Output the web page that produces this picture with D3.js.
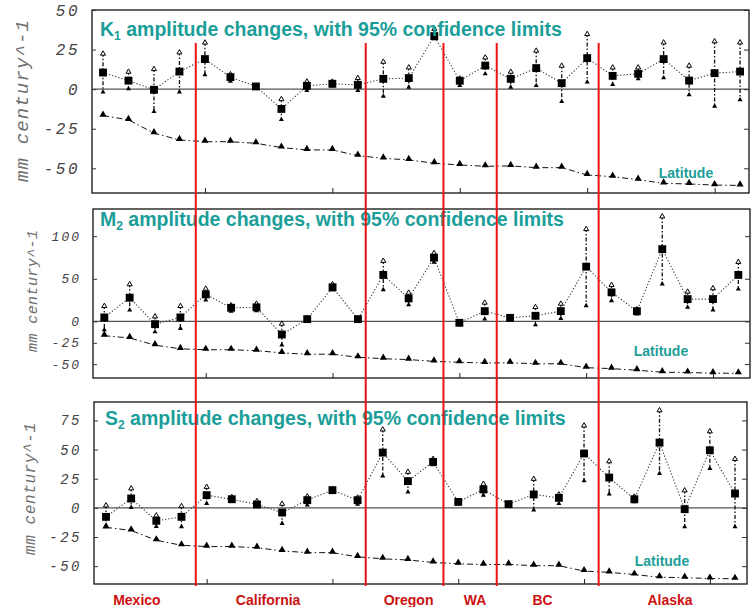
<!DOCTYPE html>
<html>
<head>
<meta charset="utf-8">
<title>K1, M2, S2 amplitude changes</title>
<style>
  body { margin: 0; background: #fff; }
  svg { display: block; }
</style>
</head>
<body>
<script src="https://d3js.org/d3.v7.min.js"></script>
<script>
// station index along the coast, south to north
var stations = [1,2,3,4,5,6,7,8,9,10,11,12,13,14,15,16,17,18,19,20,21,22,23,24,25,26];

// latitude curve (plotted as negative offset, same in every panel)
var latitude = [-16.7,-19.4,-27.8,-32.1,-33.2,-33.2,-34.2,-36.9,-38.4,-38.4,-42.0,-43.7,-44.7,
                -46.8,-47.9,-48.7,-48.5,-49.6,-49.6,-54.2,-55.3,-57.2,-59.5,-59.9,-60.6,-60.8];

// K1 trend and 95% limits (mm/century)
var k1   = [10.5,5.4,-0.4,11.1,19.0,7.6,1.7,-12.5,2.1,3.4,2.7,6.5,7.0,33.5,5.3,14.9,6.5,13.3,3.8,19.6,8.4,9.7,19.0,5.4,10.1,11.1];
var k1Hi = [23.0,11.6,13.3,23.8,30.0,10.0,2.7,-5.7,5.4,5.3,7.6,17.9,14.3,38.6,7.3,20.6,11.6,24.9,15.4,35.4,14.3,14.3,30.1,15.4,30.8,30.1];
var k1Lo = [-2.5,-0.4,-14.8,-2.5,8.4,4.4,0.0,-19.9,-1.5,1.3,-1.5,-5.1,0.6,31.2,1.6,9.0,0.6,1.6,-8.5,3.8,2.3,5.9,6.5,-4.2,-11.4,-7.4];

// M2
var m2   = [4.7,27.8,-3.2,4.7,31.7,16.0,16.5,-15.3,2.7,40.0,2.7,54.5,27.0,74.8,-1.6,12.1,4.2,6.6,12.1,64.2,34.1,12.1,84.7,26.2,26.2,54.5];
var m2Hi = [19.2,44.7,7.0,19.2,39.5,20.0,21.9,-1.6,4.7,44.7,4.5,72.1,34.8,81.2,0.4,23.1,6.2,18.0,21.9,109.4,43.9,15.3,124.2,36.0,40.0,70.9];
var m2Lo = [-11.0,12.1,-13.4,-9.4,23.9,10.6,11.4,-28.7,0.7,36.0,0.9,36.0,18.4,68.2,-3.6,1.5,2.2,-5.2,2.3,17.2,23.1,7.4,42.7,15.3,12.1,36.8];

// S2
var s2   = [-7.7,8.0,-11.1,-7.7,10.9,7.4,2.9,-4.0,6.6,15.2,6.6,47.4,22.9,39.4,5.1,15.8,3.2,11.5,8.6,46.6,26.0,7.4,56.0,-1.1,49.4,12.3];
var s2Hi = [2.9,17.5,-5.7,2.3,18.8,10.0,6.6,4.3,10.6,16.5,9.6,68.0,31.7,42.8,6.4,21.4,4.5,25.7,12.3,71.4,40.8,10.4,84.5,15.8,66.5,42.8];
var s2Lo = [-16.3,-0.5,-16.8,-17.0,2.9,5.1,0.3,-14.2,1.5,13.9,2.3,26.5,12.8,36.0,3.8,10.0,1.9,-2.8,2.9,22.3,10.9,4.4,28.6,-17.1,32.9,-17.1];

var k1Ticks = [50, 25, 0, -25, -50];
var m2Ticks = [100, 50, 0, -25, -50];
var s2Ticks = [75, 50, 25, 0, -25, -50];
var xTicks  = [5, 10, 15, 20, 25];

// region boundaries (station units) and label centres
var boundaries   = [4.64, 11.31, 14.36, 16.45, 20.45];
var regions      = ["Mexico", "California", "Oregon", "WA", "BC", "Alaska"];
var regionCentre = [2.33, 7.48, 12.99, 15.6, 18.25, 23.25];

var width = 752, height = 607;
var teal = "#1b9e99";

var svg = d3.select("body").append("svg")
    .attr("width", width)
    .attr("height", height);

var panels = [
  {letter: "K", sub: "1", mid: k1, hi: k1Hi, lo: k1Lo, ticks: k1Ticks,
   yDomain: [-65.6, 50], xDomain: [0.568, 26.35],
   left: 92, right: 749, top: 10, bottom: 193,
   titleX: 100, titleY: 36, titleLen: 458, latX: 686, latY: 178,
   tickFont: 16, tickSpace: 2.5, labelX: 28, labelY: 101, labelLen: 162, labelFont: 19},
  {letter: "M", sub: "2", mid: m2, hi: m2Hi, lo: m2Lo, ticks: m2Ticks,
   yDomain: [-66.3, 131.8], xDomain: [0.554, 26.46],
   left: 93, right: 750, top: 209, bottom: 378,
   titleX: 100, titleY: 226, titleLen: 461, latX: 661, latY: 356,
   tickFont: 13, tickSpace: 2, labelX: 37, labelY: 291, labelLen: 122, labelFont: 15},
  {letter: "S", sub: "2", mid: s2, hi: s2Hi, lo: s2Lo, ticks: s2Ticks,
   yDomain: [-65.3, 90.8], xDomain: [0.523, 26.477],
   left: 94, right: 747, top: 402, bottom: 584,
   titleX: 105, titleY: 425, titleLen: 457, latX: 662, latY: 566,
   tickFont: 14, tickSpace: 2.5, labelX: 35, labelY: 489, labelLen: 132, labelFont: 16}
];

var square = d3.symbol().type(d3.symbolSquare).size(62);
var tri    = d3.symbol().type(d3.symbolTriangle).size(22);
var capTri = d3.symbol().type(d3.symbolTriangle).size(11);

var xTop;

panels.forEach(function(p, pi){
  var x = d3.scaleLinear().domain(p.xDomain).range([p.left, p.right]);
  var y = d3.scaleLinear().domain(p.yDomain).range([p.bottom, p.top]);
  if (pi === 0) xTop = x;

  var g = svg.append("g");

  // frame
  g.append("rect")
      .attr("x", p.left).attr("y", p.top)
      .attr("width", p.right - p.left).attr("height", p.bottom - p.top)
      .attr("fill", "none").attr("stroke", "#111").attr("stroke-width", 1.3);

  // zero line
  g.append("line")
      .attr("x1", p.left).attr("x2", p.right)
      .attr("y1", y(0)).attr("y2", y(0))
      .attr("stroke", "#555").attr("stroke-width", 1.3);

  // y axis labels, ticks pointing in
  var ya = g.append("g")
      .attr("transform", "translate(" + p.left + ",0)")
      .call(d3.axisLeft(y).tickValues(p.ticks).tickSizeInner(-4).tickSizeOuter(0).tickPadding(12)
            .tickFormat(function(d){ return d < 0 ? "-" + Math.abs(d) : d; }));
  ya.select(".domain").remove();
  ya.selectAll("line").attr("stroke", "#333");
  ya.selectAll("text")
      .attr("font-family", "'Liberation Mono', 'DejaVu Sans Mono', monospace")
      .attr("font-style", "italic")
      .attr("font-size", p.tickFont)
      .attr("letter-spacing", p.tickSpace)
      .attr("fill", "#444");

  var yr = g.append("g")
      .attr("transform", "translate(" + p.right + ",0)")
      .call(d3.axisRight(y).tickValues(p.ticks).tickSizeInner(-5).tickSizeOuter(0).tickFormat(""));
  yr.select(".domain").remove();
  yr.selectAll("line").attr("stroke", "#333");

  var xa = g.append("g")
      .attr("transform", "translate(0," + p.bottom + ")")
      .call(d3.axisBottom(x).tickValues(xTicks).tickSizeInner(-5).tickSizeOuter(0).tickFormat(""));
  xa.select(".domain").remove();
  xa.selectAll("line").attr("stroke", "#222");

  // unit label
  g.append("text")
      .attr("transform", "translate(" + p.labelX + "," + p.labelY + ") rotate(-90)")
      .attr("text-anchor", "middle")
      .attr("font-family", "'Liberation Mono', 'DejaVu Sans Mono', monospace")
      .attr("font-style", "italic")
      .attr("font-size", p.labelFont)
      .attr("fill", "#707070")
      .attr("textLength", p.labelLen)
      .attr("lengthAdjust", "spacing")
      .text("mm century^-1");

  // latitude curve
  g.append("path")
      .datum(latitude)
      .attr("fill", "none")
      .attr("stroke", "#111")
      .attr("stroke-width", 1)
      .attr("stroke-dasharray", "6,3,1.5,3")
      .attr("d", d3.line().x(function(d, i){ return x(stations[i]); }).y(function(d){ return y(d); }));
  g.selectAll(".lat")
      .data(latitude)
      .enter().append("path")
      .attr("class", "lat")
      .attr("transform", function(d, i){ return "translate(" + x(stations[i]) + "," + (y(d) - 1) + ")"; })
      .attr("d", tri)
      .attr("fill", "#000");

  g.append("text")
      .attr("x", p.latX).attr("y", p.latY)
      .attr("text-anchor", "middle")
      .attr("font-family", "Arial, 'Liberation Sans', sans-serif")
      .attr("font-weight", "bold")
      .attr("font-size", 14)
      .attr("fill", teal)
      .text("Latitude");

  // trend line through the estimates
  g.append("path")
      .datum(p.mid)
      .attr("fill", "none")
      .attr("stroke", "#333")
      .attr("stroke-width", 1.1)
      .attr("stroke-dasharray", "1.2,2")
      .attr("d", d3.line().x(function(d, i){ return x(stations[i]); }).y(function(d){ return y(d); }));

  // error bars
  g.selectAll(".err")
      .data(p.mid)
      .enter().append("line")
      .attr("class", "err")
      .attr("x1", function(d, i){ return x(stations[i]); })
      .attr("x2", function(d, i){ return x(stations[i]); })
      .attr("y1", function(d, i){ return y(p.hi[i]); })
      .attr("y2", function(d, i){ return y(p.lo[i]); })
      .attr("stroke", "#111")
      .attr("stroke-width", 1.3)
      .attr("stroke-dasharray", "4,2,1.5,2");

  g.selectAll(".capHi")
      .data(p.hi)
      .enter().append("path")
      .attr("class", "capHi")
      .attr("transform", function(d, i){ return "translate(" + x(stations[i]) + "," + (y(d) + 1) + ")"; })
      .attr("d", capTri)
      .attr("fill", "#fff")
      .attr("stroke", "#000")
      .attr("stroke-width", 1);

  g.selectAll(".capLo")
      .data(p.lo)
      .enter().append("path")
      .attr("class", "capLo")
      .attr("transform", function(d, i){ return "translate(" + x(stations[i]) + "," + (y(d) - 1) + ")"; })
      .attr("d", capTri)
      .attr("fill", "#000");

  g.selectAll(".est")
      .data(p.mid)
      .enter().append("path")
      .attr("class", "est")
      .attr("transform", function(d, i){ return "translate(" + x(stations[i]) + "," + y(d) + ")"; })
      .attr("d", square)
      .attr("fill", "#000");

  // panel title with subscript
  var t = g.append("text")
      .attr("x", p.titleX).attr("y", p.titleY)
      .attr("font-family", "Arial, 'Liberation Sans', sans-serif")
      .attr("font-weight", "bold")
      .attr("font-size", 19.5)
      .attr("fill", teal);
  t.append("tspan").text(p.letter);
  t.append("tspan").attr("font-size", 12).attr("dy", 4).text(p.sub);
  t.append("tspan").attr("dy", -4).text(" amplitude changes, with 95% confidence limits");
});

// region boundaries
svg.selectAll(".boundary")
    .data(boundaries)
    .enter().append("line")
    .attr("class", "boundary")
    .attr("x1", function(d){ return xTop(d); })
    .attr("x2", function(d){ return xTop(d); })
    .attr("y1", 43).attr("y2", 586)
    .attr("stroke", "#ee1111")
    .attr("stroke-width", 2);

svg.selectAll(".region")
    .data(regions)
    .enter().append("text")
    .attr("class", "region")
    .attr("x", function(d, i){ return xTop(regionCentre[i]); })
    .attr("y", 605)
    .attr("text-anchor", "middle")
    .attr("font-family", "Arial, 'Liberation Sans', sans-serif")
    .attr("font-weight", "bold")
    .attr("font-size", 14)
    .attr("fill", "#cc1111")
    .text(function(d){ return d; });
</script>
</body>
</html>
